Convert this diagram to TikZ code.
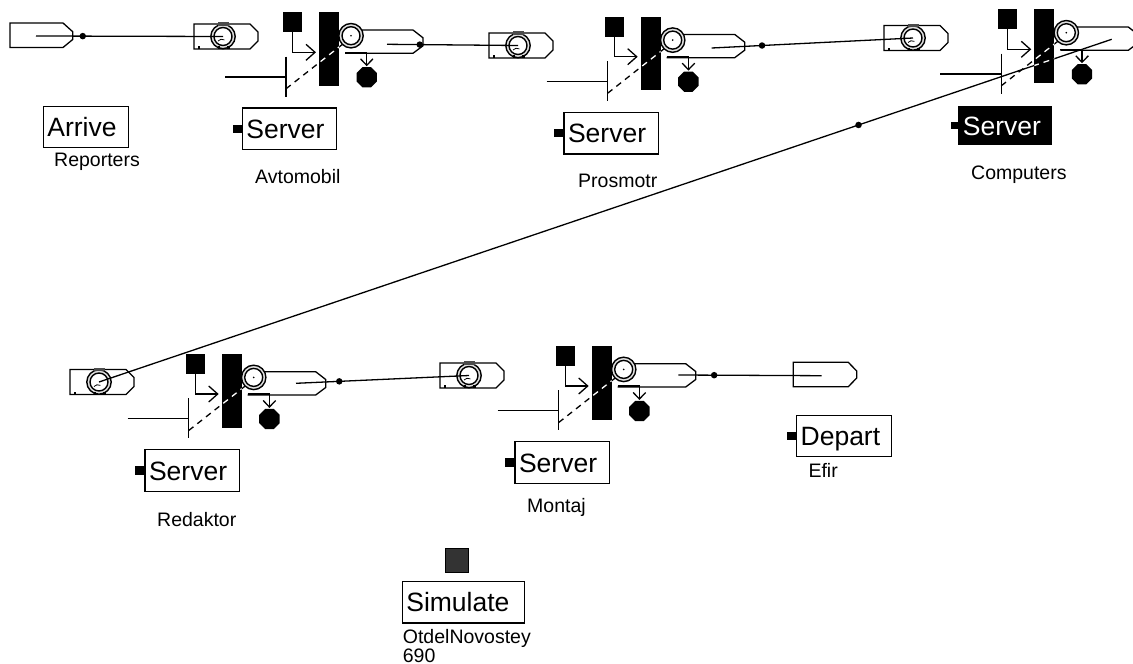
\documentclass[tikz,border=0pt]{standalone}
\usepackage{fontspec}
\setmainfont{Liberation Sans}
\usetikzlibrary{calc}
\tikzset{
  ln/.style={line width=1.3pt, line join=miter},
  ring/.style={line width=1.4pt},
  bigtxt/.style={font=\fontsize{26.5}{28}\selectfont},
  smalltxt/.style={font=\fontsize{19.5}{17.4}\selectfont, inner sep=0pt, anchor=base west},
  blockbox/.style={draw, ln, bigtxt, anchor=north west, inner xsep=4pt, inner ysep=0pt,
    text height=19pt, text depth=0pt, align=left},
  srvbox/.style={blockbox, text width=86.3pt, minimum height=41.7pt},
  dotmark/.style={circle, fill=black, inner sep=0pt, minimum size=6.5pt},
  gap/.style={dash pattern=on 6pt off 5pt},
  % queue icon: box with a nose and a double ring
  queue/.pic={
    \draw[ln] (0,0) -- (56,0) -- (64,8) -- (64,17) -- (56,25) -- (0,25) -- cycle;
    \draw[ring, fill=black!12] (29,12.5) circle (12.2);
    \draw[ring, fill=white] (29,12.5) circle (9);
    \fill[black!70] (24,-2) rectangle (35,1.5);
    \fill (3.5,22) rectangle (6,24.5);
    \fill (23.5,22) rectangle (26,24.5);
    \fill (33,22) rectangle (35.5,24.5);
    \draw[line width=0.8pt] (24,17) arc (220:300:5);
    \coordinate (-in) at (29,12.5);
  },
  % server icon, origin at the top left corner of the black bar
  server/.pic={
    \fill (-36,0) rectangle (-17,20);
    \draw[ln] (-26.5,20) -- (-26.5,40) -- (-4,40);
    \draw[ln] (-13,32) -- (-4,40) -- (-13,48);
    \draw[ln] (-94,64.7) -- (-33,64.7);
    \draw[ln] (-33,44.4) -- (-33,84.4);
    \draw[ln, gap] (-33,76.5) -- (23.5,32);
    \fill (0,0) rectangle (20,73.5);
    \begin{scope}
      \clip (0,0) rectangle (20,73.5);
      \draw[ln, gap, white] (-33,76.5) -- (23.5,32);
    \end{scope}
    \draw[ln] (26,41) -- (94,41) -- (104,33.5) -- (104,25.5) -- (94,17.7) -- (32,17.7);
    \draw[ln] (26,40) -- (47.7,40) -- (47.7,53);
    \draw[ln] (41.5,46.5) -- (47.7,53) -- (54,46.5);
    \fill[shift={(47.7,65)}] (22.5:11) -- (67.5:11) -- (112.5:11) -- (157.5:11)
      -- (202.5:11) -- (247.5:11) -- (292.5:11) -- (337.5:11) -- cycle;
    \draw[ring, fill=black!12] (32,23.4) circle (12.2);
    \draw[ring, fill=white] (32,23.4) circle (9);
    \fill (32,23.4) circle (0.9);
    \coordinate (-barnw) at (0,0);
    \coordinate (-barse) at (20,73.5);
  }
}
\begin{document}
\begin{tikzpicture}[x=1pt, y=-1pt]
\useasboundingbox[fill=white] (0,0) rectangle (1133,664);

% source and sink shapes
\draw[ln] (10,23) -- (63,23) -- (72.7,31.7) -- (72.7,39.5) -- (63,47.5) -- (10,47.5) -- cycle;
\coordinate (arrout) at (36,36);
\draw[ln] (793.3,362.3) -- (848.3,362.3) -- (856.7,371) -- (856.7,378) -- (848.3,386.7) -- (793.3,386.7) -- cycle;
\coordinate (depin) at (821.7,375.7);

% queues
\pic (q1) at (194,24) {queue};
\pic (q2) at (489,33) {queue};
\pic (q3) at (884,25.5) {queue};
\pic (q4) at (70,369.5) {queue};
\pic (q5) at (440,363) {queue};

% servers
\pic (avto) at (319,12.3) {server};
\pic (pros) at (640.7,16.7) {server};
\pic (comp) at (1034.3,9.3) {server};
\pic (reda) at (221.7,354) {server};
\pic (mont) at (591.7,346) {server};

% output points of the servers
\coordinate (avtoout) at (387,44.3);
\coordinate (prosout) at (711.7,48);
\coordinate (compout) at (1111.7,39.3);
\coordinate (redaout) at (296,383.3);
\coordinate (montout) at (678.3,375);

% connectors
\draw[ln] (arrout) -- node[dotmark, pos=0.25] (d1) {} (q1-in);
\draw[ln] (avtoout) -- node[dotmark, pos=0.25] (d2) {} (q2-in);
\draw[ln] (prosout) -- node[dotmark, pos=0.25] (d3) {} (q3-in);
\draw[ln] (compout) -- node[dotmark, pos=0.25] (d4) {} (q4-in);
\draw[ln] (redaout) -- node[dotmark, pos=0.25] (d5) {} (q5-in);
\draw[ln] (montout) -- node[dotmark, pos=0.25] (d6) {} (depin);
\begin{scope}
  \clip (comp-barnw) rectangle (comp-barse);
  \draw[ln, gap, white] (compout) -- (q4-in);
\end{scope}

% block boxes
\node[blockbox, text width=77pt, minimum height=41pt] (arrbox) at (42.7,105.7) {Arrive};
\node[srvbox] (avtobox) at (241.7,107.3) {Server};
\node[srvbox] (prosbox) at (563.4,111.7) {Server};
\node[blockbox, text width=84.4pt, minimum height=38pt, fill=black, text=white] (compbox) at (958.3,106) {Server};
\node[srvbox] (redabox) at (144.4,449) {Server};
\node[srvbox] (montbox) at (514.4,441) {Server};
\node[blockbox, text width=87pt, minimum height=41pt] (depbox) at (796,415) {Depart};
\node[blockbox, text width=114.3pt, minimum height=41.6pt] (simbox) at (401.7,580.7) {Simulate};

% ports on the boxes
\foreach \b in {avtobox, prosbox, redabox, montbox, depbox}
  \fill ($(\b.west)+(-9,-4.2)$) rectangle ++(9,8.4);
\fill ($(compbox.west)+(-7.5,-3.5)$) rectangle ++(7,7);
\filldraw[fill=black!80, draw=black, line width=1pt] (445,548.3) rectangle (468.3,572.3);

% labels
\node[smalltxt] (lrep) at (54,166.5) {Reporters};
\node[smalltxt] (lavto) at (255,183.5) {Avtomobil};
\node[smalltxt] (lpros) at (578,187) {Prosmotr};
\node[smalltxt] (lcomp) at (971,179) {Computers};
\node[smalltxt] (lreda) at (157,526) {Redaktor};
\node[smalltxt] (lmont) at (527,512) {Montaj};
\node[smalltxt] (lefir) at (808.3,477) {Efir};
\node[smalltxt, anchor=north west, align=left] (lsim) at (402.7,629) {OtdelNovostey\\690};
\end{tikzpicture}
\end{document}
